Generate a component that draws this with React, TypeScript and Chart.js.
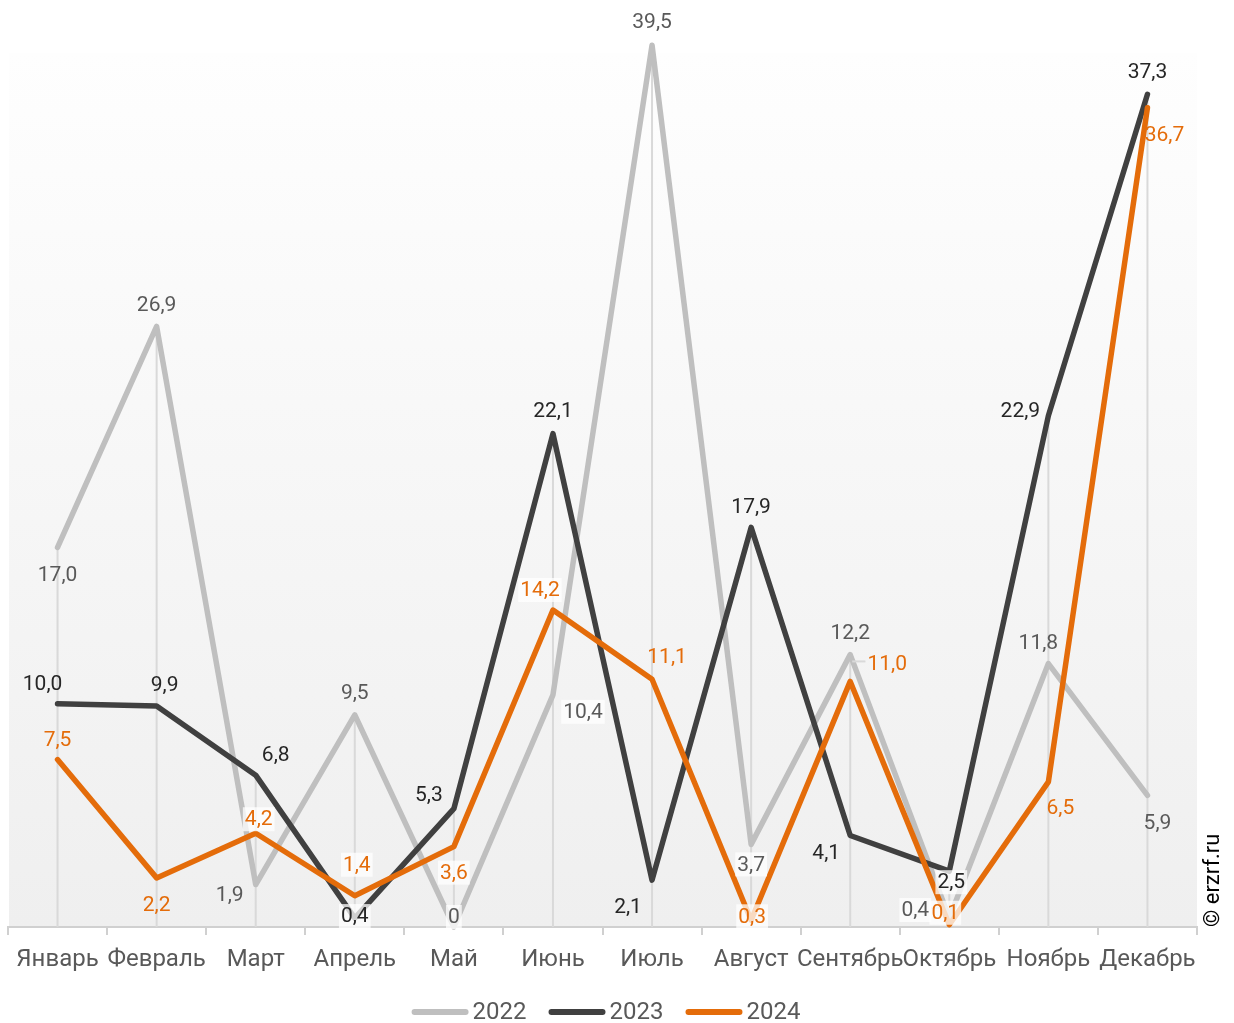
import React, { useEffect, useRef } from "react";
import { Chart, registerables } from "chart.js";
Chart.register(...registerables);

const months = ["Январь", "Февраль", "Март", "Апрель", "Май", "Июнь", "Июль", "Август", "Сентябрь", "Октябрь", "Ноябрь", "Декабрь"];
const seriesNames = ["2022", "2023", "2024"];
const values2022 = [17.0, 26.9, 1.9, 9.5, 0, 10.4, 39.5, 3.7, 12.2, 0.4, 11.8, 5.9];
const values2023 = [10.0, 9.9, 6.8, 0.4, 5.3, 22.1, 2.1, 17.9, 4.1, 2.5, 22.9, 37.3];
const values2024 = [7.5, 2.2, 4.2, 1.4, 3.6, 14.2, 11.1, 0.3, 11.0, 0.1, 6.5, 36.7];

// styling
const lineColors = ["#bfbfbf", "#404040", "#e46c0a"];
const labelColors = ["#595959", "#262626", "#e46c0a"];
const labelOffsets = [
  [[0, 27], [0, -22], [-26, 10], [0, -22], [0, -10], [30, 17], [0, -23], [0, 20], [0, -22], [-34, -8], [-10, -21], [10, 27]],
  [[-15, -20], [8, -21], [20, -20], [0, -2], [-25, -14], [0, -23], [-24, 27], [0, -21], [-24, 17], [2, 11], [-28, -5], [0, -23]],
  [[0, -20], [0, 27], [3, -14], [2, -31], [0, 26], [-13, -20], [15, -22], [1, -4], [37, -18], [-4, -12], [12, 26], [17, 27]],
];
const labelBoxes = [[4, 5, 7, 9], [3, 9], [2, 3, 4, 5, 7, 9]];
const labelLeaders: Record<string, string> = { "0-9": "left", "2-8": "right" };

const fmt = (v: number) => (v === 0 ? "0" : v.toFixed(1).replace(".", ","));

const bgPlugin = {
  id: "bgPlugin",
  beforeDraw(chart: any) {
    const { ctx, chartArea } = chart;
    ctx.save();
    ctx.fillStyle = "#ffffff";
    ctx.fillRect(0, 0, chart.width, chart.height);
    const top = chartArea.top + 19;
    const g = ctx.createLinearGradient(0, top, 0, chartArea.bottom);
    g.addColorStop(0, "#fefefe");
    g.addColorStop(1, "#efefef");
    ctx.fillStyle = g;
    ctx.fillRect(chartArea.left + 1, top, chartArea.right - chartArea.left - 1, chartArea.bottom - top);
    ctx.restore();
  },
  beforeDatasetsDraw(chart: any) {
    const { ctx, chartArea, scales } = chart;
    ctx.save();
    ctx.strokeStyle = "#d9d9d9";
    ctx.lineWidth = 2;
    months.forEach((_, i) => {
      const m = Math.max(values2022[i], values2023[i], values2024[i]);
      const x = scales.x.getPixelForValue(i);
      ctx.beginPath();
      ctx.moveTo(x, scales.y.getPixelForValue(m));
      ctx.lineTo(x, chartArea.bottom);
      ctx.stroke();
    });
    ctx.restore();
  },
  afterDatasetsDraw(chart: any) {
    const { ctx } = chart;
    ctx.save();
    ctx.font = "21px Roboto";
    ctx.textAlign = "center";
    ctx.textBaseline = "middle";
    [0, 1, 2].forEach((d) => {
      const meta = chart.getDatasetMeta(d);
      const data = chart.data.datasets[d].data as number[];
      meta.data.forEach((pt: any, i: number) => {
        const [dx, dy] = labelOffsets[d][i];
        const x = pt.x + dx;
        const y = pt.y + dy;
        const txt = fmt(data[i]);
        const w = ctx.measureText(txt).width;
        if (labelBoxes[d].includes(i)) {
          ctx.fillStyle = "rgba(255,255,255,0.75)";
          ctx.fillRect(x - w / 2 - 2, y - 12, w + 4, 24);
        }
        const lead = labelLeaders[d + "-" + i];
        if (lead) {
          ctx.strokeStyle = "#d9d9d9";
          ctx.lineWidth = 2;
          ctx.beginPath();
          if (lead === "right") {
            ctx.moveTo(pt.x + 2, y - 2);
            ctx.lineTo(x - w / 2 - 2, y - 2);
          } else {
            ctx.moveTo(x + w / 2 + 2, y - 2);
            ctx.lineTo(pt.x - 8, y - 2);
          }
          ctx.stroke();
        }
        ctx.fillStyle = labelColors[d];
        ctx.fillText(txt, x, y + 1);
      });
    });
    ctx.restore();
  },
  afterDraw(chart: any) {
    const { ctx, chartArea } = chart;
    ctx.save();
    // legend
    ctx.font = "24px Roboto";
    ctx.textBaseline = "middle";
    ctx.textAlign = "left";
    const sample = 57, gap = 4, spacing = 22;
    const widths = seriesNames.map((n) => ctx.measureText(n).width);
    const total = widths.reduce((a, b) => a + b, 0) + 3 * (sample + gap) + 2 * spacing;
    let x = chart.width / 2 - total / 2 - 11;
    const ly = 1012;
    seriesNames.forEach((n, i) => {
      ctx.strokeStyle = lineColors[i];
      ctx.lineWidth = 6;
      ctx.lineCap = "round";
      ctx.beginPath();
      ctx.moveTo(x + 3, ly);
      ctx.lineTo(x + sample - 3, ly);
      ctx.stroke();
      ctx.fillStyle = "#595959";
      ctx.fillText(n, x + sample + gap, ly + 1);
      x += sample + gap + widths[i] + spacing;
    });
    // copyright
    ctx.font = "22px Roboto";
    ctx.fillStyle = "#000000";
    ctx.translate(chartArea.right + 16, chartArea.bottom);
    ctx.rotate(-Math.PI / 2);
    ctx.textAlign = "left";
    ctx.textBaseline = "middle";
    ctx.fillText("© erzrf.ru", 0, 0);
    ctx.restore();
  },
};

export default function App() {
  const ref = useRef<HTMLCanvasElement | null>(null);
  useEffect(() => {
    if (!ref.current) return;
    const series = [values2022, values2023, values2024];
    const chart = new Chart(ref.current, {
      type: "line",
      data: {
        labels: months,
        datasets: series.map((s, i) => ({
          label: seriesNames[i],
          data: s,
          borderColor: lineColors[i],
          backgroundColor: lineColors[i],
          borderWidth: 5.5,
          pointRadius: 0,
          pointHoverRadius: 0,
          tension: 0,
          borderJoinStyle: "round" as const,
          borderCapStyle: "round" as const,
          order: 2 - i,
          clip: false as any,
        })),
      },
      options: {
        animation: false,
        responsive: true,
        maintainAspectRatio: false,
        layout: { padding: { left: 8, right: 37, top: 34, bottom: 50 } },
        plugins: { legend: { display: false }, tooltip: { enabled: false } },
        scales: {
          y: { display: false, min: 0, max: 40 },
          x: {
            offset: true,
            grid: { offset: true, drawOnChartArea: false, drawTicks: true, tickLength: 8, color: "#d0d0d0", lineWidth: 2 },
            border: { color: "#d0d0d0", width: 2 },
            ticks: { autoSkip: false, maxRotation: 0, padding: 11, color: "#595959", font: { family: "Roboto", size: 24 } },
            afterFit: (scale: any) => { scale.height = 46; },
          },
        },
      },
      plugins: [bgPlugin],
    });
    return () => chart.destroy();
  }, []);
  return (
    <div style={{ position: "fixed", left: 0, top: 0, width: 1234, height: 1023 }}>
      <canvas ref={ref} />
    </div>
  );
}
